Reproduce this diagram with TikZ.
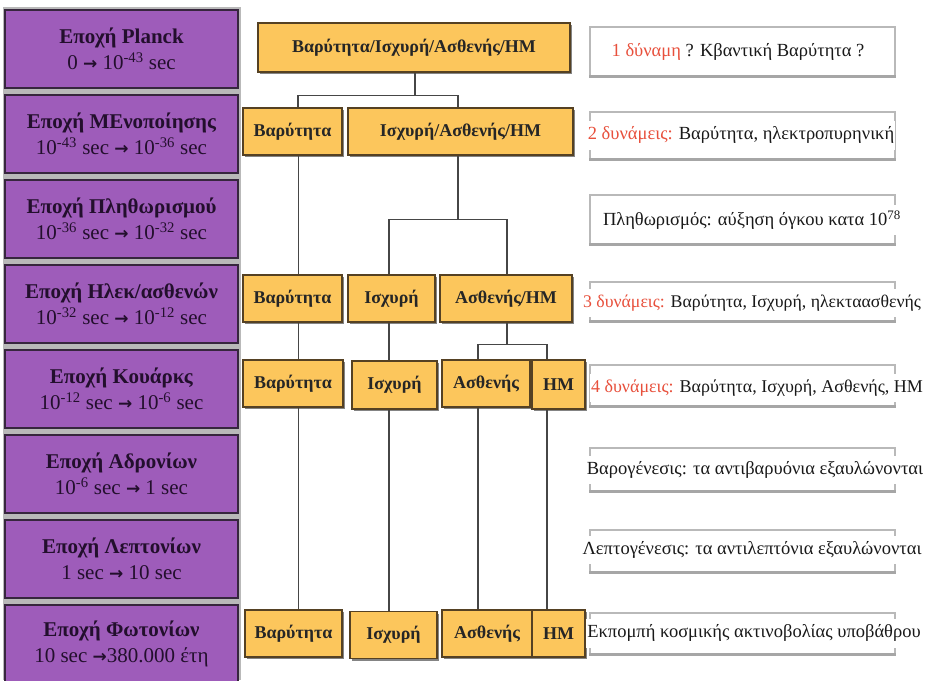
\documentclass[tikz,border=0pt]{standalone}
\usepackage{fontspec}
\setmainfont{Liberation Serif}
\newfontfamily\arrowfont{DejaVu Sans}
\usetikzlibrary{shadows}
\definecolor{epoch}{RGB}{158,92,186}
\definecolor{pborder}{RGB}{55,38,62}
\definecolor{ptext}{RGB}{35,15,45}
\definecolor{gold}{RGB}{252,198,92}
\definecolor{oborder}{RGB}{85,65,35}
\definecolor{linecol}{RGB}{70,70,70}
\definecolor{rgray}{RGB}{185,185,185}
\definecolor{redt}{RGB}{232,80,60}
\newcommand{\ar}{{\arrowfont\bfseries\fontsize{17}{17}\selectfont →}}
\begin{document}
\begin{tikzpicture}[x=1pt,y=-1pt,
  pbox/.style={draw=pborder, line width=1.6pt, fill=epoch, minimum width=233pt, minimum height=78pt, align=center, text=ptext, inner sep=0pt, font=\fontsize{21}{26}\selectfont},
  obox/.style={draw=oborder, line width=1.4pt, fill=gold, minimum height=47pt, inner sep=0pt, text=black!85, font=\bfseries\fontsize{18}{20}\selectfont, drop shadow={shadow xshift=2pt, shadow yshift=-2pt, fill=black!60, opacity=0.8}},
  conn/.style={draw=linecol, line width=1.3pt},
  rbox/.style={draw=rgray, line width=1.4pt, minimum width=305pt, inner sep=0pt},
  rbar/.style={draw=rgray!90!black, line width=3.5pt},
  rtext/.style={fill=white, inner xsep=1pt, inner ysep=6pt, text=black!90, font=\fontsize{18.5}{20}\selectfont}
]
\useasboundingbox (0,0) rectangle (926,680);
\fill[white] (0,0) rectangle (926,680);
% left column
\fill[gray!55] (3,7) rectangle (241,680);
\node[pbox] (e1) at (121.5,49) {\textbf{Εποχή Planck}\\0 \ar{} 10\textsuperscript{-43} sec};
\node[pbox] (e2) at (121.5,134) {\textbf{Εποχή ΜΕνοποίησης}\\10\textsuperscript{-43} sec \ar{} 10\textsuperscript{-36} sec};
\node[pbox] (e3) at (121.5,219) {\textbf{Εποχή Πληθωρισμού}\\10\textsuperscript{-36} sec \ar{} 10\textsuperscript{-32} sec};
\node[pbox] (e4) at (121.5,304) {\textbf{Εποχή Ηλεκ/ασθενών}\\10\textsuperscript{-32} sec \ar{} 10\textsuperscript{-12} sec};
\node[pbox] (e5) at (121.5,389) {\textbf{Εποχή Κουάρκς}\\10\textsuperscript{-12} sec \ar{} 10\textsuperscript{-6} sec};
\node[pbox] (e6) at (121.5,474) {\textbf{Εποχή Αδρονίων}\\10\textsuperscript{-6} sec \ar{} 1 sec};
\node[pbox] (e7) at (121.5,559) {\textbf{Εποχή Λεπτονίων}\\1 sec \ar{} 10 sec};
\node[pbox] (e8) at (121.5,644) {\textbf{Εποχή Φωτονίων}\\10 sec \ar{}380.000 έτη};
% middle tree
\node[obox, minimum width=312pt, minimum height=49pt] (top) at (414,47.5) {Βαρύτητα/Ισχυρή/Ασθενής/ΗΜ};
\node[obox, minimum width=99pt] (b2a) at (292.5,131.5) {Βαρύτητα};
\node[obox, minimum width=225pt] (b2b) at (460.5,131.5) {Ισχυρή/Ασθενής/ΗΜ};
\node[obox, minimum width=99pt] (b4a) at (292.5,298.5) {Βαρύτητα};
\node[obox, minimum width=87pt] (b4b) at (391.5,298.5) {Ισχυρή};
\node[obox, minimum width=132pt] (b4c) at (506,298.5) {Ασθενής/ΗΜ};
\node[obox, minimum width=100pt] (b5a) at (293,383.5) {Βαρύτητα};
\node[obox, minimum width=85pt, minimum height=48pt] (b5b) at (394.5,385) {Ισχυρή};
\node[obox, minimum width=88pt] (b5c) at (486,383.5) {Ασθενής};
\node[obox, minimum width=53pt, minimum height=49pt] (b5d) at (558.5,384.5) {ΗΜ};
\node[obox, minimum width=97pt] (b8a) at (293.5,633.5) {Βαρύτητα};
\node[obox, minimum width=87pt] (b8b) at (393.5,635) {Ισχυρή};
\node[obox, minimum width=90pt] (b8c) at (487,633.5) {Ασθενής};
\node[obox, minimum width=53pt] (b8d) at (558.5,633.5) {ΗΜ};
% connectors
\coordinate (j1) at ([xshift=1pt,yshift=-23pt]top.south);
\draw[conn] ([xshift=1pt]top.south) -- (j1);
\draw[conn] ([xshift=5.5pt]b2a.north) |- (j1) -| ([xshift=-2.5pt]b2b.north);
\draw[conn] ([xshift=6pt]b2a.south) -- ([xshift=6pt]b4a.north);
\coordinate (j2) at ([xshift=-2.5pt,yshift=-64pt]b2b.south);
\draw[conn] ([xshift=-2.5pt]b2b.south) -- (j2);
\draw[conn] ([xshift=-2.5pt]b4b.north) |- (j2) -| ([xshift=1pt]b4c.north);
\draw[conn] ([xshift=6pt]b4a.south) -- ([xshift=5.5pt]b5a.north);
\draw[conn] ([xshift=-2.5pt]b4b.south) -- ([xshift=-5.5pt]b5b.north);
\coordinate (j3) at ([xshift=1pt,yshift=-22pt]b4c.south);
\draw[conn] ([xshift=1pt]b4c.south) -- (j3);
\draw[conn] ([xshift=-8pt]b5c.north) |- (j3) -| ([xshift=-11.5pt]b5d.north);
\draw[conn] ([xshift=5.5pt]b5a.south) -- ([xshift=5pt]b8a.north);
\draw[conn] ([xshift=-5.5pt]b5b.south) -- ([xshift=-4.5pt]b8b.north);
\draw[conn] ([xshift=-8pt]b5c.south) -- ([xshift=-9pt]b8c.north);
\draw[conn] ([xshift=-11.5pt]b5d.south) -- ([xshift=-11.5pt]b8d.north);
% right boxes
\node[rbox, minimum height=50pt] (r1) at (742.5,52) {};
\node[rbox, minimum height=48pt] (r2) at (742.5,136) {};
\node[rbox, minimum height=50pt] (r3) at (742.5,220) {};
\node[rbox, minimum height=40pt] (r4) at (742.5,302) {};
\node[rbox, minimum height=42pt] (r5) at (742.5,386) {};
\node[rbox, minimum height=44pt] (r6) at (742.5,470) {};
\node[rbox, minimum height=43pt] (r7) at (742.5,551.5) {};
\node[rbox, minimum height=42pt] (r8) at (742.5,634) {};
\foreach \r in {r1,r2,r3,r4,r5,r6,r7,r8}{
  \draw[rbar] ([yshift=1pt]\r.south west) -- ([yshift=1pt]\r.south east);
}
\node[rtext, inner ysep=1pt] (t1) at (738,52) {{\color{redt}1 δύναμη} ? Κβαντική Βαρύτητα ?};
\node[rtext] (t2) at (741,135) {{\color{redt}2 δυνάμεις:} Βαρύτητα, ηλεκτροπυρηνική};
\node[rtext] (t3) at (752,220) {Πληθωρισμός: αύξηση όγκου κατα 10\textsuperscript{78}};
\node[rtext, font=\fontsize{17.8}{20}\selectfont] (t4) at (752,303) {{\color{redt}3 δυνάμεις:} Βαρύτητα, Ισχυρή, ηλεκταασθενής};
\node[rtext, font=\fontsize{18}{20}\selectfont] (t5) at (757,388) {{\color{redt}4 δυνάμεις:} Βαρύτητα, Ισχυρή, Ασθενής, ΗΜ};
\node[rtext] (t6) at (755,470) {Βαρογένεσις: τα αντιβαρυόνια εξαυλώνονται};
\node[rtext] (t7) at (752,550) {Λεπτογένεσις: τα αντιλεπτόνια εξαυλώνονται};
\node[rtext] (t8) at (754,633) {Εκπομπή κοσμικής ακτινοβολίας υποβάθρου};
\end{tikzpicture}
\end{document}
